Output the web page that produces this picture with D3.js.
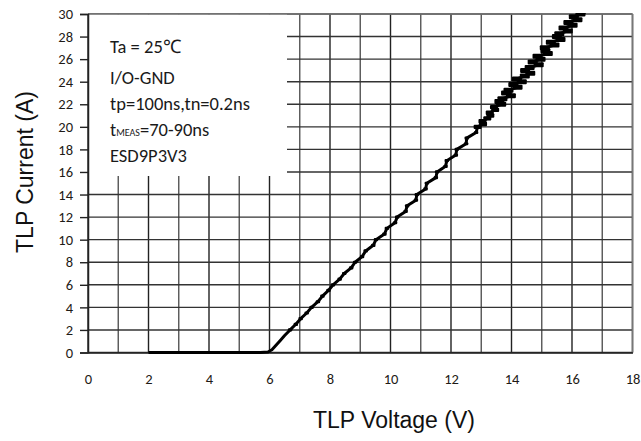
<!DOCTYPE html>
<html>
<head>
<meta charset="utf-8">
<script src="https://cdn.jsdelivr.net/npm/d3@7"></script>
<style>
  body { margin: 0; background: #fff; }
  svg { display: block; }
</style>
</head>
<body>
<svg id="chart" width="641" height="441"></svg>
<script>
// Axis ticks
const xTicks = [0, 2, 4, 6, 8, 10, 12, 14, 16, 18];
const yTicks = [0, 2, 4, 6, 8, 10, 12, 14, 16, 18, 20, 22, 24, 26, 28, 30];

// Test conditions shown in the note box
const noteLines = [
  { main: "Ta = 25℃" },
  { main: "I/O-GND" },
  { main: "tp=100ns,tn=0.2ns" },
  { pre: "t", sub: "MEAS", main: "=70-90ns" },
  { main: "ESD9P3V3" }
];

// TLP measurement (voltage in V, current in A)
const tlpVoltage = [
  2.0, 3.0, 4.0, 5.0, 5.7, 5.95, 6.08, 6.2, 6.35, 6.5,
  6.68, 6.87, 7.03, 7.23, 7.39, 7.60, 7.75, 7.95, 8.10, 8.32,
  8.47, 8.70, 8.83, 9.06, 9.18, 9.43, 9.52, 9.80, 9.88, 10.15,
  10.22, 10.50, 10.55, 10.84, 10.87, 11.16, 11.20, 11.50, 11.54, 11.82,
  11.86, 12.16, 12.19, 12.50, 12.52, 12.83,
  12.88, 13.06, 13.04, 13.20, 13.30, 13.28, 13.46, 13.42, 13.66, 13.60,
  13.70, 13.98, 13.82, 13.90, 14.20, 14.06, 14.34, 14.18, 14.44, 14.62,
  14.45, 14.60, 14.90, 14.70, 14.96, 14.86, 15.20, 15.12, 15.10, 15.42,
  15.30, 15.62, 15.50, 15.58, 15.86, 15.72, 16.02, 15.88, 16.18, 16.06,
  16.28, 16.30
];
const tlpCurrent = [
  0, 0, 0, 0, 0, 0.05, 0.25, 0.6, 1.05, 1.5,
  2.0, 2.5, 3.0, 3.5, 4.0, 4.5, 5.0, 5.5, 6.0, 6.5,
  7.0, 7.5, 8.0, 8.5, 9.0, 9.5, 10.0, 10.5, 11.0, 11.5,
  12.0, 12.5, 13.0, 13.5, 14.0, 14.5, 15.0, 15.5, 16.0, 16.5,
  17.0, 17.5, 18.0, 18.5, 19.0, 19.5,
  20.0, 20.25, 20.5, 20.75, 21.0, 21.25, 21.5, 21.75, 22.0, 22.25,
  22.5, 22.75, 23.0, 23.25, 23.5, 23.75, 24.0, 24.25, 24.5, 24.75,
  25.0, 25.25, 25.5, 25.75, 26.0, 26.25, 26.5, 26.75, 27.0, 27.25,
  27.5, 27.75, 28.0, 28.25, 28.5, 28.75, 29.0, 29.25, 29.5, 29.75,
  30.0, 30.25
];

const svg = d3.select("#chart");
const plotLeft = 88, plotRight = 632.5, plotTop = 14, plotBottom = 352.5;

const x = d3.scaleLinear().domain([0, 18]).range([plotLeft, plotRight]);
const y = d3.scaleLinear().domain([0, 30]).range([plotBottom, plotTop]);

const tickFont = "Carlito, Lato, 'Open Sans', sans-serif";

// Grid: every 1 V vertically, every 2 A horizontally
const grid = svg.append("g");
grid.selectAll("line.v")
  .data(d3.range(0, 19))
  .join("line")
  .attr("class", "v")
  .attr("x1", d => x(d)).attr("x2", d => x(d))
  .attr("y1", plotTop).attr("y2", plotBottom)
  .attr("stroke", (d, i) => i % 2 ? "#555" : "#222")
  .attr("stroke-width", 1.4);
grid.selectAll("line.h")
  .data(yTicks)
  .join("line")
  .attr("class", "h")
  .attr("x1", plotLeft).attr("x2", plotRight)
  .attr("y1", d => y(d)).attr("y2", d => y(d))
  .attr("stroke", "#333")
  .attr("stroke-width", 1.4);

// Border (top and right lighter)
svg.append("line").attr("x1", plotLeft).attr("x2", plotRight).attr("y1", plotTop).attr("y2", plotTop)
  .attr("stroke", "#777").attr("stroke-width", 1.6);
svg.append("line").attr("x1", plotRight).attr("x2", plotRight).attr("y1", plotTop).attr("y2", plotBottom)
  .attr("stroke", "#777").attr("stroke-width", 1.6);

// Note box covering the upper-left grid
const boxRight = 287, boxBottom = 176;
svg.append("rect")
  .attr("x", plotLeft + 0.8).attr("y", plotTop + 0.8)
  .attr("width", boxRight - plotLeft - 0.8).attr("height", boxBottom - plotTop - 0.8)
  .attr("fill", "#fff");

// Y axis with outward ticks
const yAxis = d3.axisLeft(y).tickValues(yTicks).tickSize(8).tickPadding(7);
const yg = svg.append("g").attr("transform", `translate(${plotLeft},0)`).call(yAxis);
yg.select(".domain").attr("stroke", "#222").attr("stroke-width", 1.5);
yg.selectAll(".tick line").attr("stroke", "#222").attr("stroke-width", 1.4);
yg.selectAll(".tick text")
  .attr("font-family", tickFont).attr("font-size", 14.5).attr("fill", "#1e1a16");

// X axis: labels only
const xAxis = d3.axisBottom(x).tickValues(xTicks).tickSize(0).tickPadding(21);
const xg = svg.append("g").attr("transform", `translate(0,${plotBottom})`).call(xAxis);
xg.select(".domain").attr("stroke", "#222").attr("stroke-width", 1.5);
xg.selectAll(".tick text")
  .attr("font-family", tickFont).attr("font-size", 14.5).attr("fill", "#1e1a16");

// Axis titles
svg.append("text")
  .attr("x", 394).attr("y", 428)
  .attr("text-anchor", "middle")
  .attr("font-family", "'Liberation Sans', Arial, sans-serif")
  .attr("font-size", 23).attr("fill", "#111")
  .text("TLP Voltage (V)");
svg.append("text")
  .attr("transform", "translate(33,172) rotate(-90)")
  .attr("text-anchor", "middle")
  .attr("font-family", "'Liberation Sans', Arial, sans-serif")
  .attr("font-size", 23).attr("fill", "#111")
  .text("TLP Current (A)");

// Note text
const noteBase = [53, 84, 110, 136, 162];
const note = svg.append("g")
  .attr("font-family", tickFont).attr("font-size", 18.5).attr("fill", "#1a1a1a");
noteLines.forEach((ln, i) => {
  const t = note.append("text").attr("x", 110).attr("y", noteBase[i]);
  if (ln.pre) {
    t.append("tspan").text(ln.pre);
    t.append("tspan").attr("font-size", 10).text(ln.sub);
  }
  t.append("tspan").text(ln.main);
});

// Measured curve
const pts = tlpVoltage.map((v, i) => [v, tlpCurrent[i]]);
svg.append("clipPath").attr("id", "plotClip")
  .append("rect").attr("x", plotLeft).attr("y", plotTop - 1)
  .attr("width", plotRight - plotLeft).attr("height", plotBottom - plotTop + 4);

const curve = svg.append("g").attr("clip-path", "url(#plotClip)");
curve.append("path")
  .datum(pts)
  .attr("fill", "none")
  .attr("stroke", "#000")
  .attr("stroke-width", 3)
  .attr("stroke-linejoin", "round")
  .attr("d", d3.line().x(d => x(d[0])).y(d => y(d[1])));
// Individual pulses: small marks, larger where the readings scatter more
const markW = d => d[1] >= 22 ? 10 : d[1] >= 20 ? 8 : 4.4;
const markH = d => d[1] >= 22 ? 5 : d[1] >= 20 ? 4.4 : 3.2;
curve.selectAll("rect.pt")
  .data(pts.filter(d => d[1] > 1.5))
  .join("rect")
  .attr("class", "pt")
  .attr("x", d => x(d[0]) - markW(d) / 2)
  .attr("y", d => y(d[1]) - markH(d) / 2)
  .attr("width", markW)
  .attr("height", markH)
  .attr("rx", 1)
  .attr("fill", "#000");
</script>
</body>
</html>
